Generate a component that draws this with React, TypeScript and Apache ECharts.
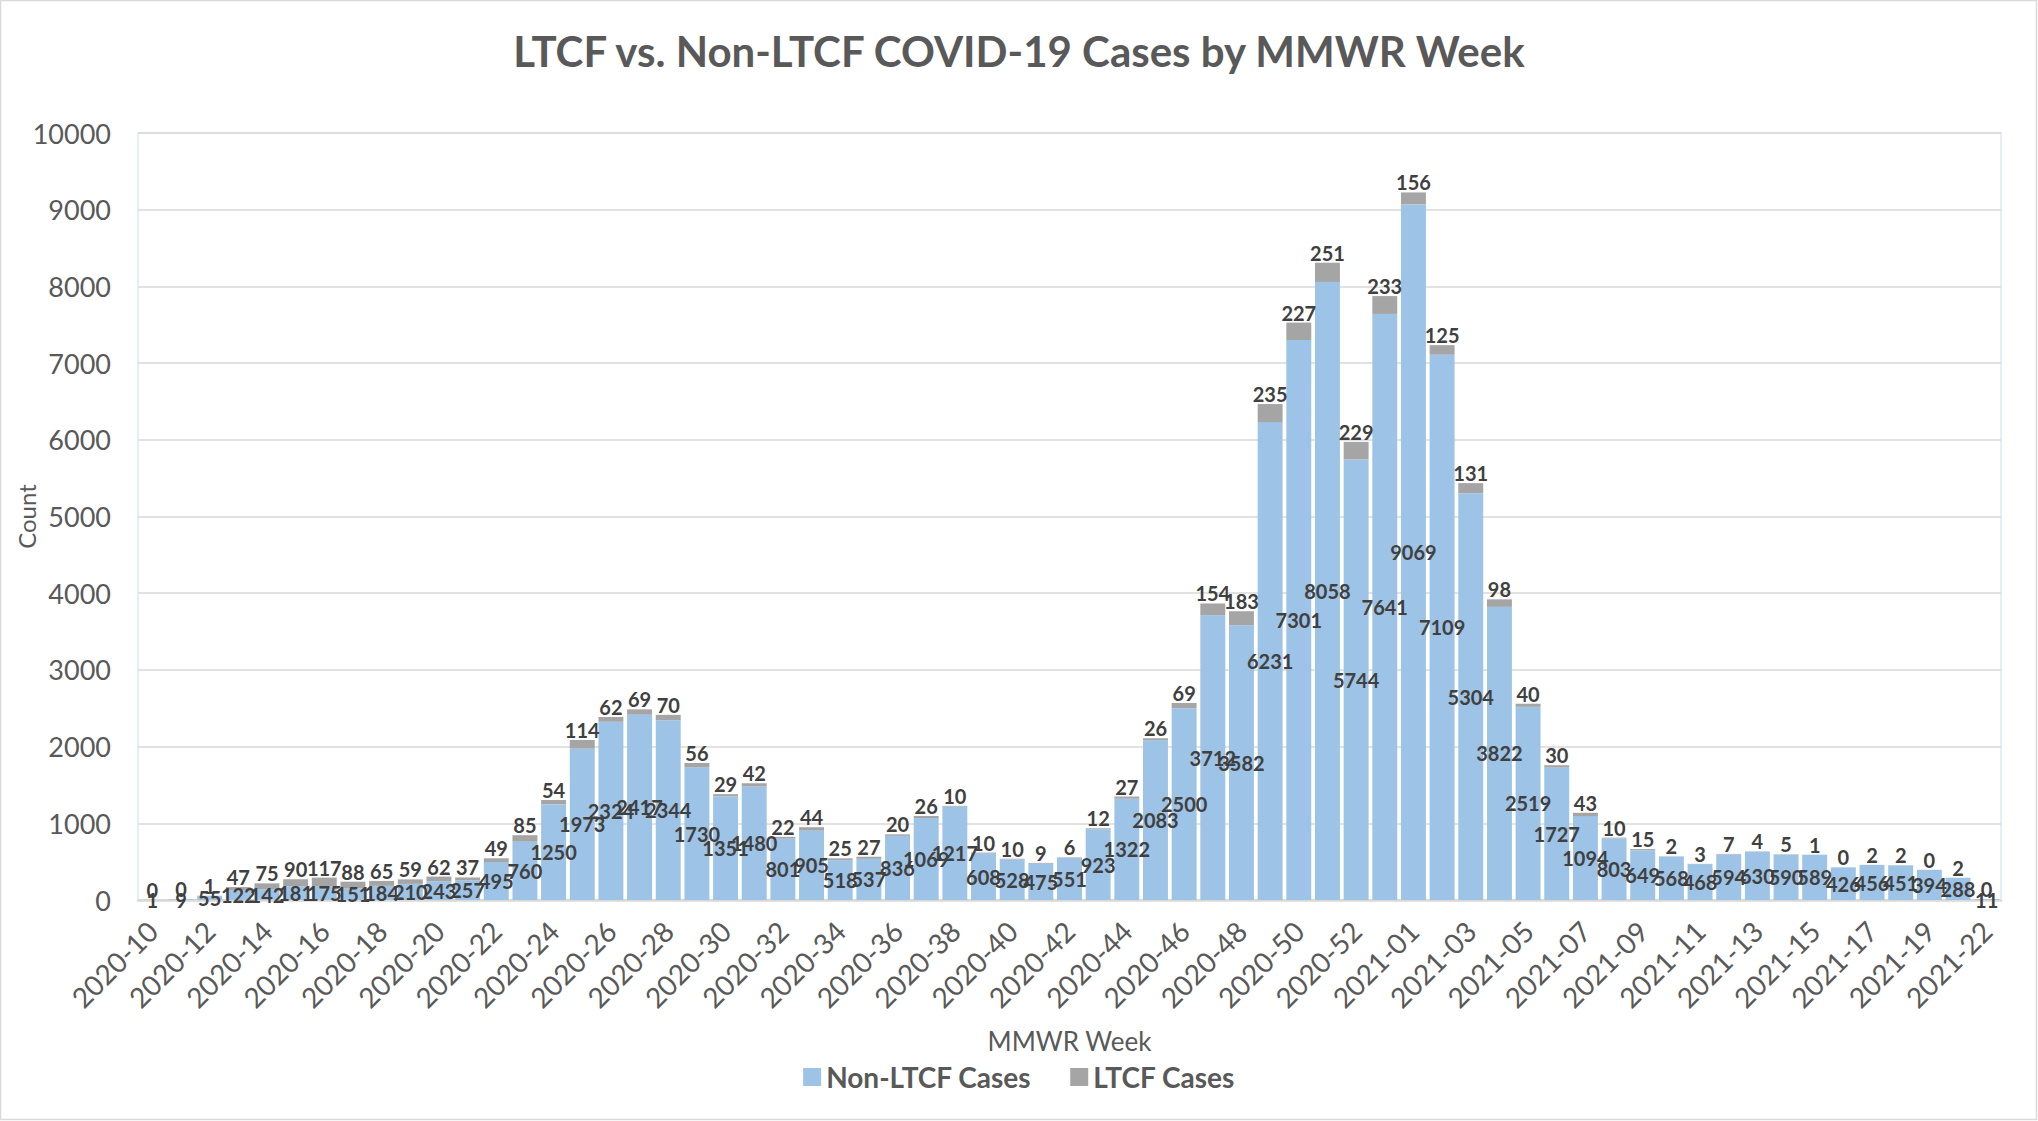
import React, { useEffect, useRef } from "react";
import * as echarts from "echarts";

const weeks: string[] = [
  "2020-10", "2020-11", "2020-12", "2020-13", "2020-14", "2020-15", "2020-16", "2020-17", "2020-18", "2020-19",
  "2020-20", "2020-21", "2020-22", "2020-23", "2020-24", "2020-25", "2020-26", "2020-27", "2020-28", "2020-29",
  "2020-30", "2020-31", "2020-32", "2020-33", "2020-34", "2020-35", "2020-36", "2020-37", "2020-38", "2020-39",
  "2020-40", "2020-41", "2020-42", "2020-43", "2020-44", "2020-45", "2020-46", "2020-47", "2020-48", "2020-49",
  "2020-50", "2020-51", "2020-52", "2020-53", "2021-01", "2021-02", "2021-03", "2021-04", "2021-05", "2021-06",
  "2021-07", "2021-08", "2021-09", "2021-10", "2021-11", "2021-12", "2021-13", "2021-14", "2021-15", "2021-16",
  "2021-17", "2021-18", "2021-19", "2021-21", "2021-22",
];

const nonLtcfCases: number[] = [
  1, 9, 55, 122, 142, 181, 175, 151, 184, 210,
  243, 257, 495, 760, 1250, 1973, 2324, 2417, 2344, 1730,
  1351, 1480, 801, 905, 518, 537, 836, 1069, 1217, 608,
  528, 475, 551, 923, 1322, 2083, 2500, 3712, 3582, 6231,
  7301, 8058, 5744, 7641, 9069, 7109, 5304, 3822, 2519, 1727,
  1094, 803, 649, 568, 468, 594, 630, 590, 589, 426,
  456, 451, 394, 288, 11,
];

const ltcfCases: number[] = [
  0, 0, 1, 47, 75, 90, 117, 88, 65, 59,
  62, 37, 49, 85, 54, 114, 62, 69, 70, 56,
  29, 42, 22, 44, 25, 27, 20, 26, 10, 10,
  10, 9, 6, 12, 27, 26, 69, 154, 183, 235,
  227, 251, 229, 233, 156, 125, 131, 98, 40, 30,
  43, 10, 15, 2, 3, 7, 4, 5, 1, 0,
  2, 2, 0, 2, 0,
];

const seriesNames: string[] = ["Non-LTCF Cases", "LTCF Cases"];
const titleText = "LTCF vs. Non-LTCF COVID-19 Cases by MMWR Week";
const xAxisTitle = "MMWR Week";
const yAxisTitle = "Count";

const FONT = "Lato, 'Open Sans', sans-serif";

export default function App() {
  const ref = useRef<HTMLDivElement>(null);

  useEffect(() => {
    document.body.style.margin = "0";
    if (!ref.current) return;
    const chart = echarts.init(ref.current, undefined, { renderer: "svg" });
    const labelStyle = {
      show: true,
      color: "#404040",
      fontWeight: "bold" as const,
      fontSize: 20,
      fontFamily: FONT,
    };
    chart.setOption({
      animation: false,
      backgroundColor: "#ffffff",
      textStyle: { fontFamily: FONT },
      title: {
        text: titleText,
        left: "center",
        top: 25,
        textStyle: { color: "#595959", fontSize: 42, fontWeight: "bold", fontFamily: FONT },
      },
      graphic: [
        {
          type: "rect",
          shape: { x: 0.5, y: 0.5, width: 2036, height: 1119 },
          style: { fill: "none", stroke: "#D9D9D9", lineWidth: 1.5 },
          silent: true,
          z: 100,
        },
      ],
      legend: {
        data: seriesNames,
        bottom: 25,
        left: "center",
        itemWidth: 18,
        itemHeight: 18,
        itemGap: 39,
        icon: "rect",
        textStyle: { color: "#595959", fontSize: 28, fontWeight: "bold", fontFamily: FONT },
      },
      grid: {
        left: 138,
        right: 37,
        top: 133,
        bottom: 221,
        show: true,
        borderColor: "#DCE9F6",
        borderWidth: 1.5,
        backgroundColor: "transparent",
        outerBoundsMode: "none",
        containLabel: false,
      },
      xAxis: {
        type: "category",
        data: weeks,
        name: xAxisTitle,
        nameLocation: "middle",
        nameGap: 128,
        nameMoveOverlap: false,
        nameTextStyle: { color: "#595959", fontSize: 26, fontFamily: FONT },
        axisLine: { show: true, lineStyle: { color: "#D9D9D9", width: 2.5 } },
        axisTick: { show: false },
        axisLabel: {
          interval: 1,
          rotate: 45,
          margin: 26,
          color: "#595959",
          fontSize: 28,
          fontFamily: FONT,
        },
      },
      yAxis: {
        type: "value",
        min: 0,
        max: 10000,
        interval: 1000,
        name: yAxisTitle,
        nameLocation: "middle",
        nameGap: 100,
        nameMoveOverlap: false,
        nameTextStyle: { color: "#595959", fontSize: 24, fontFamily: FONT },
        axisLine: { show: false },
        axisTick: { show: false },
        axisLabel: {
          color: "#595959",
          fontSize: 27,
          margin: 27,
          fontFamily: FONT,
          formatter: (v: number) => String(v),
        },
        splitLine: { show: true, lineStyle: { color: "#D9D9D9", width: 1.5 } },
      },
      series: [
        {
          name: seriesNames[0],
          type: "bar",
          stack: "total",
          data: nonLtcfCases,
          barCategoryGap: "13%",
          itemStyle: { color: "#9DC3E6" },
          label: { ...labelStyle, position: "inside" },
        },
        {
          name: seriesNames[1],
          type: "bar",
          stack: "total",
          data: ltcfCases,
          barCategoryGap: "13%",
          itemStyle: { color: "#A5A5A5" },
          label: { ...labelStyle, position: "top", distance: 0 },
        },
      ],
    });
    return () => chart.dispose();
  }, []);

  return (
    <div
      ref={ref}
      style={{ position: "absolute", left: 0, top: 0, width: 2038, height: 1121 }}
    />
  );
}
